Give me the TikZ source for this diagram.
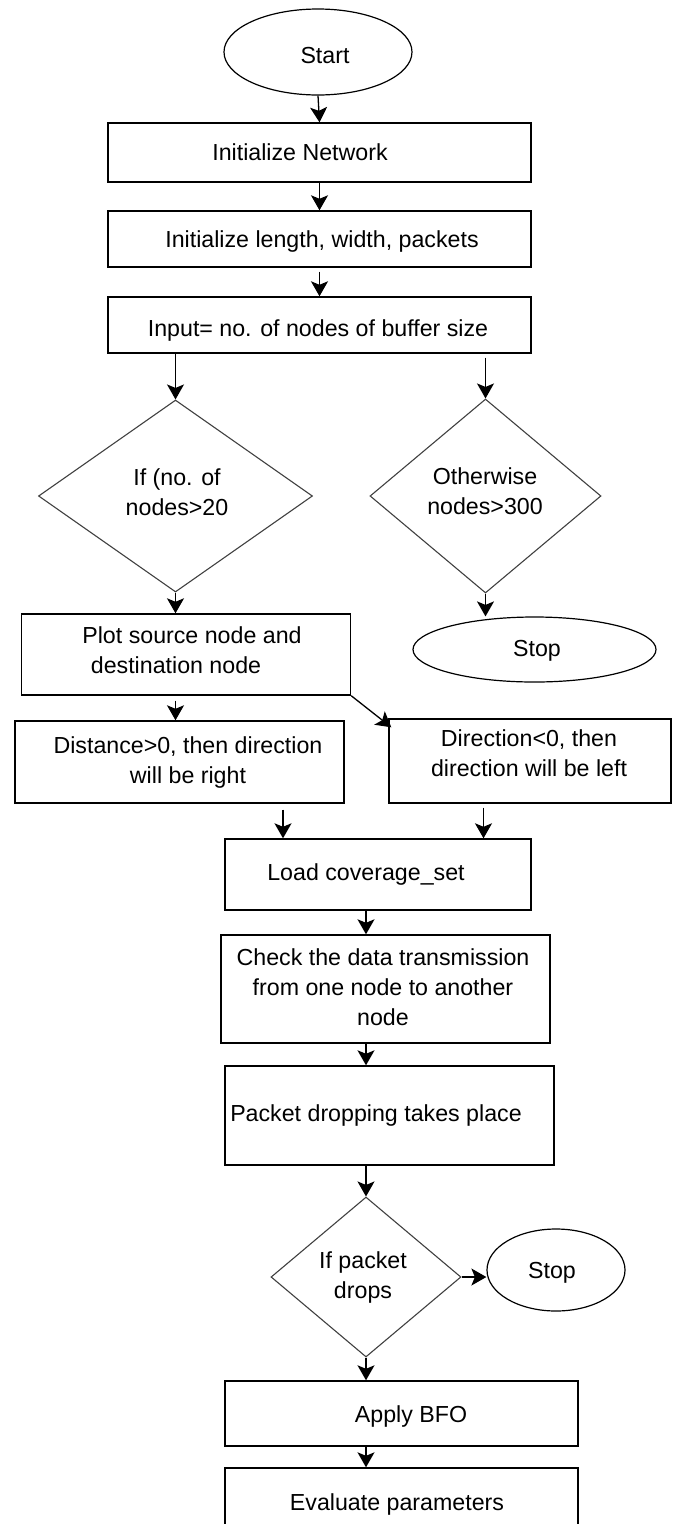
\documentclass[tikz,border=0pt]{standalone}
\usepackage{fontspec}
\setmainfont{Liberation Sans}
\usetikzlibrary{shapes.geometric,arrows.meta}
\begin{document}
\begin{tikzpicture}[x=1pt,y=-1pt,
  box/.style={draw, line width=1.4pt, rectangle, inner sep=0pt},
  dec/.style={draw=black!75, line width=1.1pt, diamond, inner sep=0pt},
  term/.style={draw, line width=1.2pt, ellipse, inner sep=0pt},
  lbl/.style={inner sep=0pt, font=\fontsize{23.2}{30}\selectfont, text height=16.7pt, text depth=0pt},
  mlbl/.style={inner sep=0pt, font=\fontsize{23.2}{30}\selectfont, align=center},
  arr/.style={line width=1.3pt, -{Stealth[length=15pt,width=17pt,inset=3.5pt]}}
]
\useasboundingbox (0,0) rectangle (675,1524);
\clip (0,0) rectangle (675,1524);

% shapes
\node[term, minimum width=188pt, minimum height=86pt] (start) at (318,52) {};
\node[box, minimum width=423pt, minimum height=59pt] (net) at (319.5,152.5) {};
\node[box, minimum width=423pt, minimum height=56pt] (len) at (319.5,239) {};
\node[box, minimum width=423pt, minimum height=56pt] (inp) at (319.5,325) {};
\node[dec, minimum width=274pt, minimum height=192pt] (d1) at (175.5,496) {};
\node[dec, minimum width=231pt, minimum height=194pt] (d2) at (485.5,496) {};
\node[term, minimum width=243pt, minimum height=65pt] (stop1) at (534.5,649.5) {};
\node[box, minimum width=329pt, minimum height=81pt] (plot) at (186,654.5) {};
\node[box, minimum width=329pt, minimum height=82pt] (dist) at (179.5,762) {};
\node[box, minimum width=282pt, minimum height=84pt] (dir) at (530,761) {};
\node[box, minimum width=306pt, minimum height=71pt] (load) at (378,874.5) {};
\node[box, minimum width=329pt, minimum height=108pt] (check) at (385.5,989) {};
\node[box, minimum width=329pt, minimum height=99pt] (packet) at (389.5,1115.5) {};
\node[dec, minimum width=190pt, minimum height=160pt] (d3) at (366,1277) {};
\node[term, minimum width=138pt, minimum height=82pt] (stop2) at (556,1270) {};
\node[box, minimum width=353pt, minimum height=65pt] (bfo) at (401.5,1413.5) {};
\node[box, minimum width=353pt, minimum height=65pt] (eval) at (401.5,1500.5) {};

% texts
\node[lbl] (tstart) at (325,55) {Start};
\node[lbl] (tnet) at (300,152) {Initialize Network};
\node[lbl] (tlen) at (322,239) {Initialize length, width, packets};
\node[lbl] (tinp) at (318,328) {Input= no. of nodes of buffer size};
\node[mlbl] (td1) at (177,492) {If (no. of\\nodes>20};
\node[mlbl] (td2) at (485,491) {Otherwise\\nodes>300};
\node[lbl] (tstop1) at (537,648) {Stop};
\node[mlbl] (tplot) at (185,650.5) {\hspace*{14pt}Plot source node and\\destination node\hspace*{18pt}};
\node[mlbl] (tdist) at (188,762.5) {Distance>0, then direction\\will be right};
\node[mlbl] (tdir) at (529,753.5) {Direction<0, then\\direction will be left};
\node[lbl] (tload) at (366,872) {Load coverage\_set};
\node[mlbl] (tcheck) at (383,987) {Check the data transmission\\from one node to another\\node};
\node[lbl] (tpacket) at (376,1113) {Packet dropping takes place};
\node[mlbl] (td3) at (363,1277) {If packet\\drops};
\node[lbl] (tstop2) at (552,1270) {Stop};
\node[lbl] (tbfo) at (411,1414) {Apply BFO};
\node[lbl] (teval) at (397,1502) {Evaluate parameters};

% column positions of connectors
\coordinate (cl) at (283,806);
\coordinate (cr) at (483.5,806);
\coordinate (cm) at (366,0);

% connectors
\draw[arr] (start.south) -- (net.north);
\draw[arr] (net.south) -- (len.north);
\draw[arr, shorten <=4pt] (len.south) -- (inp.north);
\draw[arr] (inp.south -| d1.north) -- (d1.north);
\draw[arr, shorten <=4pt] (inp.south -| d2.north) -- (d2.north);
\draw[arr] (d2.south) -- (d2.south |- stop1.north);
\draw[arr] (d1.south) -- (d1.south |- plot.north);
\draw[arr, shorten <=5pt] (d1.south |- plot.south) -- (d1.south |- dist.north);
\draw[arr] (plot.south east) -- ([shift={(3,9)}]dir.north west);
\draw[arr, shorten <=6pt] (dist.south -| cl) -- (load.north -| cl);
\draw[arr, shorten <=4pt] (dir.south -| cr) -- (load.north -| cr);
\draw[arr] (load.south -| cm) -- (check.north -| cm);
\draw[arr] (check.south -| cm) -- (packet.north -| cm);
\draw[arr] (packet.south -| cm) -- (d3.north);
\draw[arr] (d3.east) -- (d3.east -| stop2.west);
\draw[arr] (d3.south) -- (d3.south |- bfo.north);
\draw[arr] (bfo.south -| cm) -- (eval.north -| cm);
\end{tikzpicture}
\end{document}
